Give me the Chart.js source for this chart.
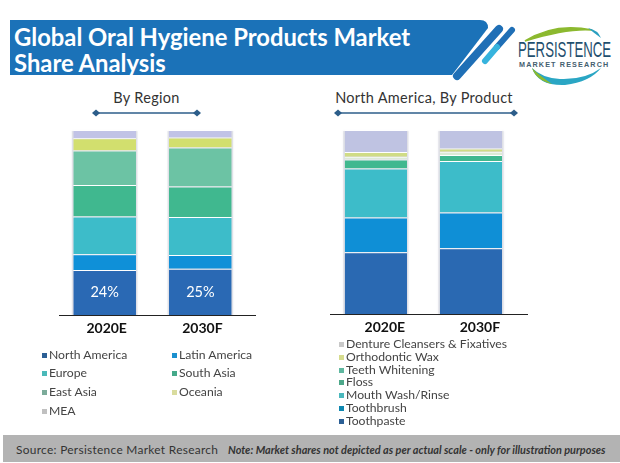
<![CDATA[<!DOCTYPE html>
<html><head><meta charset="utf-8">
<script src="https://cdn.jsdelivr.net/npm/chart.js@4"></script>
<style>
html,body{margin:0;padding:0;background:#fff;}
#page{position:relative;width:620px;height:463px;overflow:hidden;font-family:Lato,sans-serif;color:#3a3a3a;}
#page>*{position:absolute;}
.title{color:#fff;font:700 23.8px Lato,sans-serif;left:14px;white-space:nowrap;}
.sub{font:14.5px Lato,sans-serif;white-space:nowrap;transform:translateX(-50%);color:#333;letter-spacing:.3px;}
.leg{font:12.2px Lato,sans-serif;white-space:nowrap;color:#444;line-height:14px;}
.sw{width:5px;height:5px;}
canvas{display:block;}
#foot{left:3px;top:435px;width:617px;height:27px;background:#b3b3b3;}
</style></head>
<body><div id="page">
<svg width="620" height="463" style="left:0;top:0">
 <path d="M10 20H480Q488 20 488 28L452 75H10Z" fill="#1b72b8"/>
 <line x1="499" y1="29" x2="457" y2="76" stroke="#1f6fb6" stroke-width="8" stroke-linecap="round"/>
 <line x1="512" y1="30" x2="497" y2="47" stroke="#1f6fb6" stroke-width="6" stroke-linecap="round"/>
 <line x1="497" y1="47" x2="485" y2="61" stroke="#36b3dd" stroke-width="6" stroke-linecap="round"/>
 <path d="M525 41Q555 22 592 30Q568 28 525 41Z" fill="#8cb92f" stroke="#8cb92f" stroke-width="1.5"/>
 <path d="M588 28Q598 30 601 38Q594 33 588 28Z" fill="#2a9fc0"/>
 <path d="M532 68Q538 86 565 85Q590 82 601 68Q585 80 560 79Q542 78 532 68Z" fill="#2aa6c4"/>
 <path d="M532 68Q536 80 552 84Q540 76 532 68Z" fill="#8cb92f"/>
 <polygon points="92,113 96,109.5 100,113 96,116.5" fill="#2c5e8a"/>
 <polygon points="193,113 197,109.5 201,113 197,116.5" fill="#2c5e8a"/>
 <line x1="94" y1="113" x2="199" y2="113" stroke="#2c5e8a" stroke-width="1.6"/>
 <polygon points="334,113 338,109.5 342,113 338,116.5" fill="#2c5e8a"/>
 <polygon points="510,113 514,109.5 518,113 514,116.5" fill="#2c5e8a"/>
 <line x1="336" y1="113" x2="516" y2="113" stroke="#2c5e8a" stroke-width="1.6"/>
</svg>
<div class="title" style="top:23px">Global Oral Hygiene Products Market</div>
<div class="title" style="top:49px">Share Analysis</div>
<div style="left:518px;top:37px;font:400 22px 'Liberation Sans',sans-serif;color:#1f4f6e;white-space:nowrap;transform-origin:0 0;transform:scaleX(.6)">PERSISTENCE</div>
<div style="left:519px;top:60px;font:700 7.2px 'Liberation Sans',sans-serif;letter-spacing:1.15px;color:#44606f;white-space:nowrap">MARKET RESEARCH</div>
<div class="sub" style="left:146.5px;top:89px">By Region</div>
<div class="sub" style="left:424px;top:89px">North America, By Product</div>
<div style="left:50px;top:120px;width:220px;height:225px"><canvas id="c1" width="220" height="225"></canvas></div>
<div style="left:320px;top:120px;width:220px;height:225px"><canvas id="c2" width="220" height="225"></canvas></div>
<div id="foot"></div>
<div style="left:16px;top:442px;font:11.9px Lato,sans-serif;color:#333;letter-spacing:.3px;white-space:nowrap">Source: Persistence Market Research</div>
<div style="left:228px;top:443px;font:italic 700 10.9px Lato,sans-serif;color:#333;white-space:nowrap">Note: Market shares not depicted as per actual scale - only for illustration purposes</div>
</div>
<script>
const years = ["2020E", "2030F"];

const regionNames = ["North America", "Latin America", "Europe", "South Asia", "East Asia", "Oceania", "MEA"];
const northAmerica = [24.3, 25.0];
const latinAmerica = [8.5, 7.5];
const europe = [20.4, 20.5];
const southAsia = [17.1, 16.5];
const eastAsia = [18.6, 21.1];
const oceania = [6.7, 5.4];
const mea = [4.4, 4.0];
const regionValues = [northAmerica, latinAmerica, europe, southAsia, eastAsia, oceania, mea];
const regionColors = ["#2a69b4", "#0f90d8", "#3dbcc9", "#40b88f", "#6cc3a4", "#d2df6e", "#c1c3e6"];
const regionSwatches = ["#2b5f95", "#1a90cf", "#4bb9b9", "#45a98a", "#7cab9a", "#d9dc9e", "#c0c0c0"];
const naLabels = ["24%", "25%"];

const productNames = ["Toothpaste", "Toothbrush", "Mouth Wash/Rinse", "Floss", "Teeth Whitening", "Orthodontic Wax", "Denture Cleansers & Fixatives"];
const toothpaste = [33.5, 35.7];
const toothbrush = [19.0, 19.4];
const mouthWash = [26.6, 28.0];
const floss = [4.9, 3.3];
const teethWhitening = [1.4, 1.8];
const orthodonticWax = [2.7, 1.8];
const denture = [11.9, 10.0];
const productValues = [toothpaste, toothbrush, mouthWash, floss, teethWhitening, orthodonticWax, denture];
const productColors = ["#2a69b2", "#0f8fd6", "#3dbcc9", "#40b88f", "#dcebd6", "#d0dc85", "#bfc3e2"];
const productSwatches = ["#2b5f95", "#0e87b0", "#4ab8bd", "#4da88a", "#5fb8a0", "#d6dc8e", "#c8c8c8"];

const page = document.getElementById("page");
function addLegend(name, color, x, y){
  const s = document.createElement("div"); s.className = "sw";
  s.style.cssText = "left:"+x+"px;top:"+(y-2.5)+"px;background:"+color;
  const t = document.createElement("div"); t.className = "leg"; t.textContent = name;
  t.style.cssText = "left:"+(x+7)+"px;top:"+(y-7)+"px";
  page.append(s, t);
}
[[0,42,355],[1,172,355],[2,42,373],[3,172,373],[4,42,392],[5,172,392],[6,42,411]].forEach(
  ([i,x,y]) => addLegend(regionNames[i], regionSwatches[i], x, y));
[[6,344],[5,357],[4,370],[3,382],[2,395],[1,408],[0,421]].forEach(
  ([i,y]) => addLegend(productNames[i], productSwatches[i], 339, y));

const barHalo = {
  id: "barHalo",
  beforeDatasetsDraw(chart){
    const {ctx, scales:{y}} = chart;
    chart.getDatasetMeta(0).data.forEach(bar => {
      const top = y.getPixelForValue(100) + 1;
      ctx.save();
      ctx.fillStyle = "rgba(190,192,206,.4)";
      ctx.shadowColor = "rgba(190,192,206,.5)";
      ctx.shadowBlur = 2;
      ctx.fillRect(bar.x - bar.width/2 - 1.5, top, bar.width + 3, y.getPixelForValue(0) - top);
      ctx.restore();
    });
  }
};
const baseLine = {
  id: "baseLine",
  afterDatasetsDraw(chart, args, opts){
    const {ctx, scales:{x}} = chart;
    ctx.save();
    ctx.strokeStyle = "#222"; ctx.lineWidth = 1.2;
    ctx.beginPath();
    ctx.moveTo(opts.from, x.top + .5); ctx.lineTo(opts.to, x.top + .5);
    ctx.stroke();
    ctx.restore();
  }
};
const barText = {
  id: "barText",
  afterDatasetsDraw(chart, args, opts){
    if(!opts.labels) return;
    const {ctx} = chart;
    ctx.save();
    ctx.fillStyle = "#fff"; ctx.font = "14.5px Lato, sans-serif";
    ctx.textAlign = "center"; ctx.textBaseline = "middle";
    chart.getDatasetMeta(0).data.forEach((bar,i) => {
      ctx.fillText(opts.labels[i], bar.x, (bar.y + bar.base)/2);
    });
    ctx.restore();
  }
};

function stacked(id, names, values, colors, pad, bottom, labelOffset, line, labels){
  new Chart(document.getElementById(id), {
    type: "bar",
    data: { labels: years, datasets: names.map((n,i) => ({
      label: n, data: values[i], backgroundColor: colors[i],
      borderColor: "#fff", borderWidth: {top:1,bottom:0,left:0,right:0}, borderSkipped: false,
      barPercentage: .655, categoryPercentage: 1
    })) },
    plugins: [barHalo, baseLine, barText],
    options: {
      responsive: false, animation: false, devicePixelRatio: 1,
      layout: { padding: { left: pad[0], right: pad[1], top: 10, bottom: 0 } },
      plugins: { legend: {display:false}, tooltip: {enabled:false}, title: {display:false},
        baseLine: line, barText: {labels} },
      scales: {
        x: { stacked: true, grid: {display:false, drawTicks:false}, border: {display:false},
          afterFit: s => { s.height = bottom; },
          ticks: { padding: 5, labelOffset, maxRotation: 0, color: "#111",
            font: { family: "Lato, sans-serif", weight: "700", size: 14 } } },
        y: { stacked: true, display: false, min: 0, max: 100 }
      }
    }
  });
}
// canvases sit at x=50 and x=320, top 120
stacked("c1", regionNames, regionValues, regionColors, [6.8, 21.8], 30, 2, {from:9, to:206}, naLabels);
stacked("c2", productNames, productValues, productColors, [8.3, 21.5], 31, 9, {from:10, to:208}, null);
</script>
</body></html>]]>
